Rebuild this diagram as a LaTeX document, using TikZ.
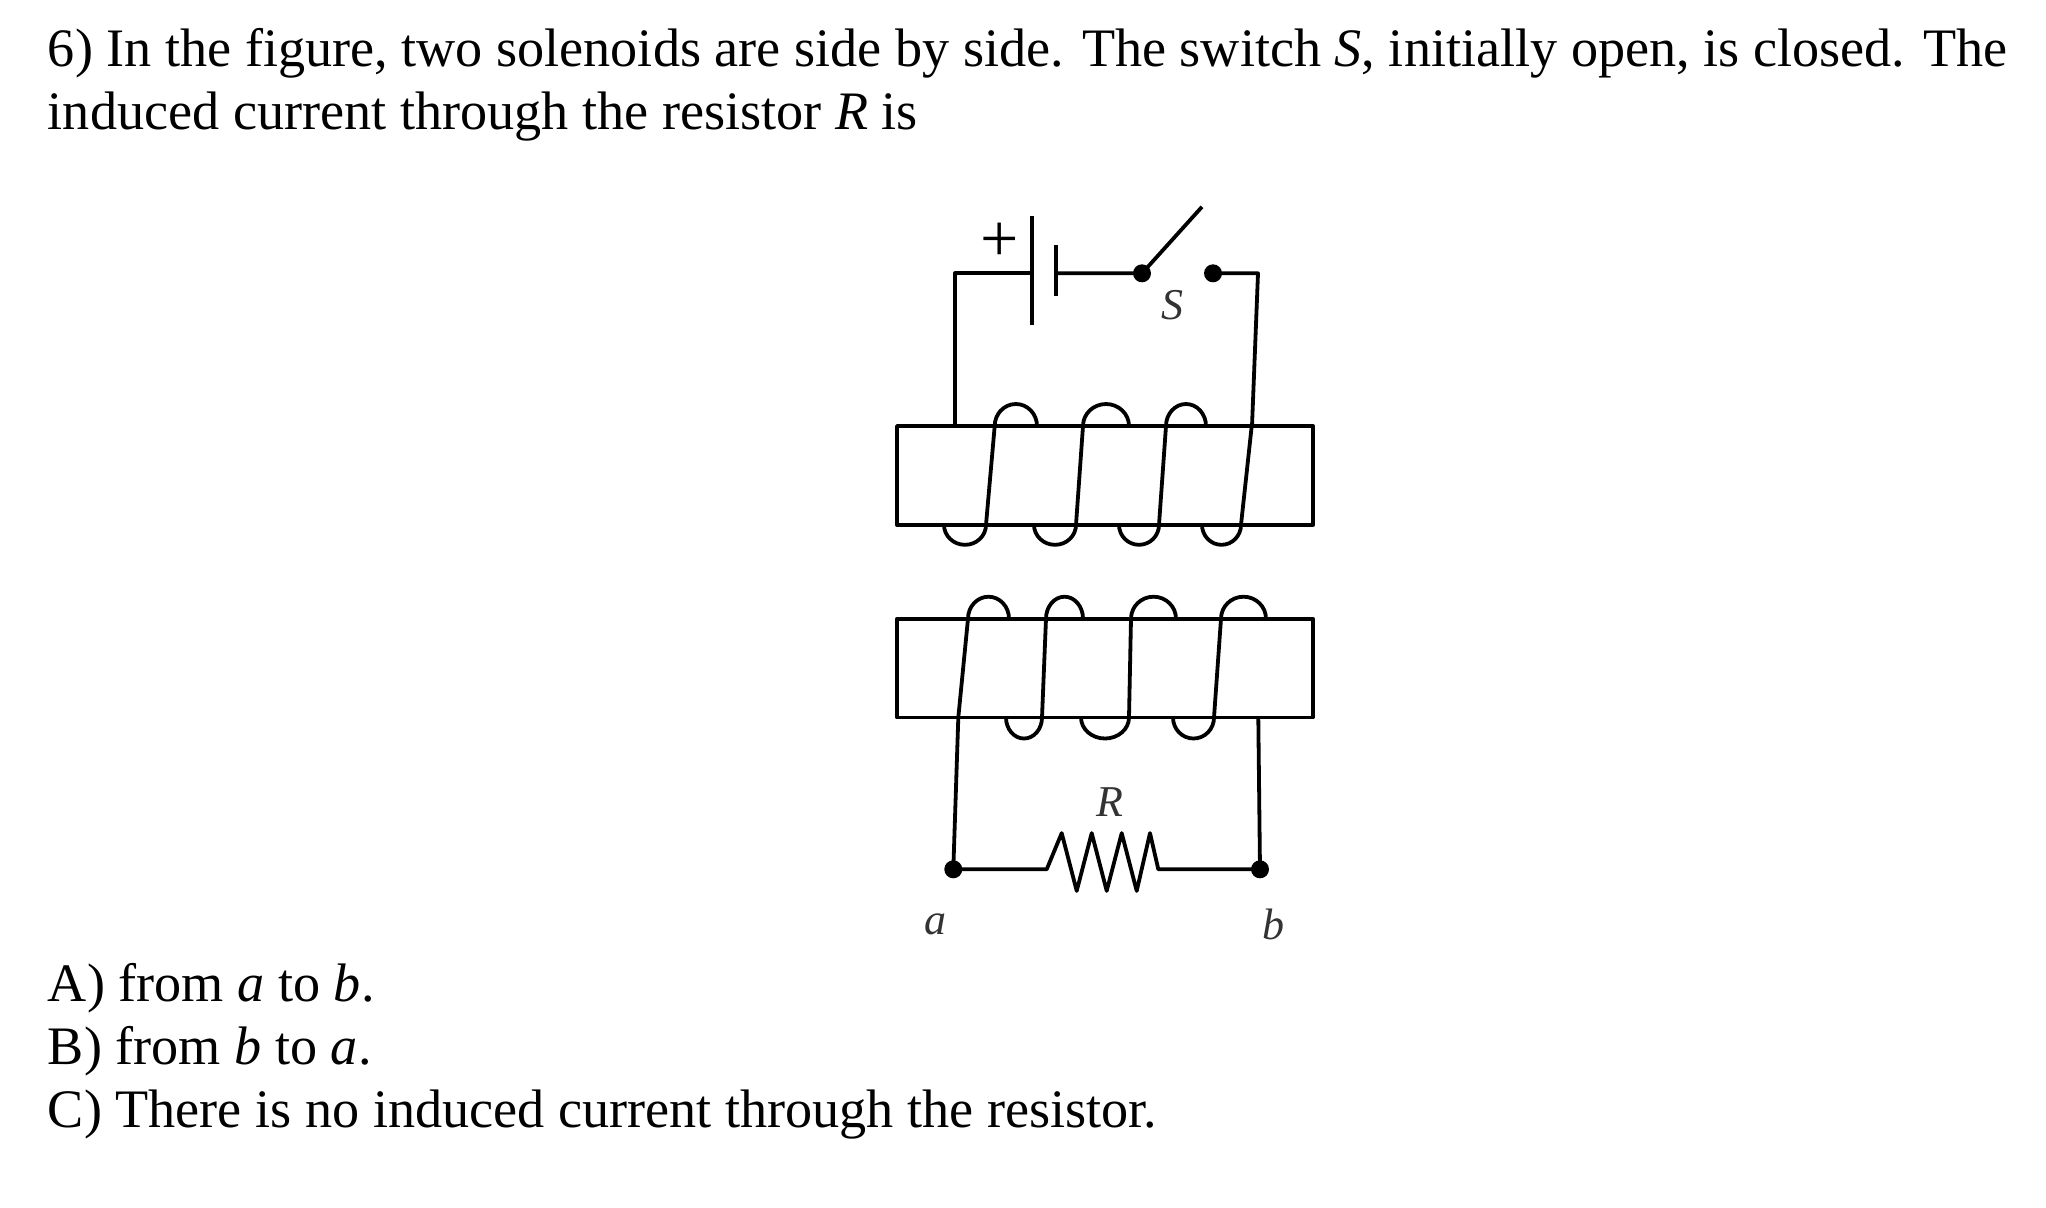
\documentclass[tikz,border=0pt]{standalone}
\usepackage{fontspec}
\setmainfont{Liberation Serif}
\begin{document}
\begin{tikzpicture}[x=0.5pt,y=-0.5pt,line width=1.9pt,line join=round,
  txt/.style={anchor=base west,inner sep=0pt,font=\fontsize{27.1}{33}\selectfont},
  lbl/.style={inner sep=0pt,font=\fontsize{22}{24}\selectfont\itshape,text=black!80},
  dot/.style={circle,fill,inner sep=0pt,minimum size=9pt}]
\useasboundingbox (0,0) rectangle (2046,1207);
\node[txt] (t1) at (46,66) {6) In the figure, two solenoids are side by side. The switch \textit{S}, initially open, is closed. The};
\node[txt] (t2) at (46,129) {induced current through the resistor \textit{R} is};
\node[txt] (qa) at (46,1001) {A) from \textit{a} to \textit{b}.};
\node[txt] (qb) at (46,1064) {B) from \textit{b} to \textit{a}.};
\node[txt] (qc) at (46,1127) {C) There is no induced current through the resistor.};
% rectangles
\draw (897,426) rectangle (1313,524.8);
\draw (897,618.7) rectangle (1313,717.5);
% upper coil
\foreach \a/\b in {944/986,1034/1076,1119/1159,1202/1241}
  \draw (\a,524.8) arc[start angle=180,end angle=0,x radius={(\b-\a)/2},y radius=20];
\foreach \a/\b in {994.7/1037,1083/1129,1166/1206}
  \draw (\a,426) arc[start angle=180,end angle=360,x radius={(\b-\a)/2},y radius=22];
\foreach \a/\b in {986/994.7,1076/1083,1159/1166,1241/1251.7}
  \draw (\a,524.8) -- (\b,426);
% lower coil
\foreach \a/\b in {968/1009,1046/1083,1131/1176,1221/1266}
  \draw (\a,618.7) arc[start angle=180,end angle=360,x radius={(\b-\a)/2},y radius=22];
\foreach \a/\b in {1006/1042,1081/1129,1173/1214}
  \draw (\a,717.5) arc[start angle=180,end angle=0,x radius={(\b-\a)/2},y radius=21];
\foreach \a/\b in {968/958.3,1046/1042,1131/1129,1221/1214}
  \draw (\a,618.7) -- (\b,717.5);
% upper circuit
\node[dot] (s1) at (1142,273.3) {};
\node[dot] (s2) at (1213,273.3) {};
\coordinate (blade) at (1202,206.8);
\draw (1252,426) -- (1258,273.3) -- (s2.center);
\draw (955,426) -- (955,273.3) -- (1032,273.3);
\draw (1032,216.4) -- (1032,324.8);
\draw (1056,245.3) -- (1056,295.9);
\draw (1056,273.3) -- (s1.center) -- (blade);
\node[inner sep=0pt,font=\fontsize{34}{36}\selectfont] (plus) at (1000,242) {+};
\node[lbl] (S) at (1172,305.6) {S};
% lower circuit
\node[dot] (a) at (953.3,869.3) {};
\node[dot] (b) at (1260,869.3) {};
\draw (958.3,717.5) -- (a.center) -- (1046.7,869.3) -- (1061.7,833.1) -- (1076.7,890.9) -- (1091.7,833.1)
  -- (1106.7,890.9) -- (1121.7,833.1) -- (1136.7,890.9) -- (1150,833.1) -- (1158.3,869.3) -- (b.center) -- (1258.3,717.5);
\node[lbl] (R) at (1110,801.8) {R};
\node[lbl] (la) at (935,924.7) {a};
\node[lbl] (lb) at (1273,924.7) {b};
\end{tikzpicture}
\end{document}
